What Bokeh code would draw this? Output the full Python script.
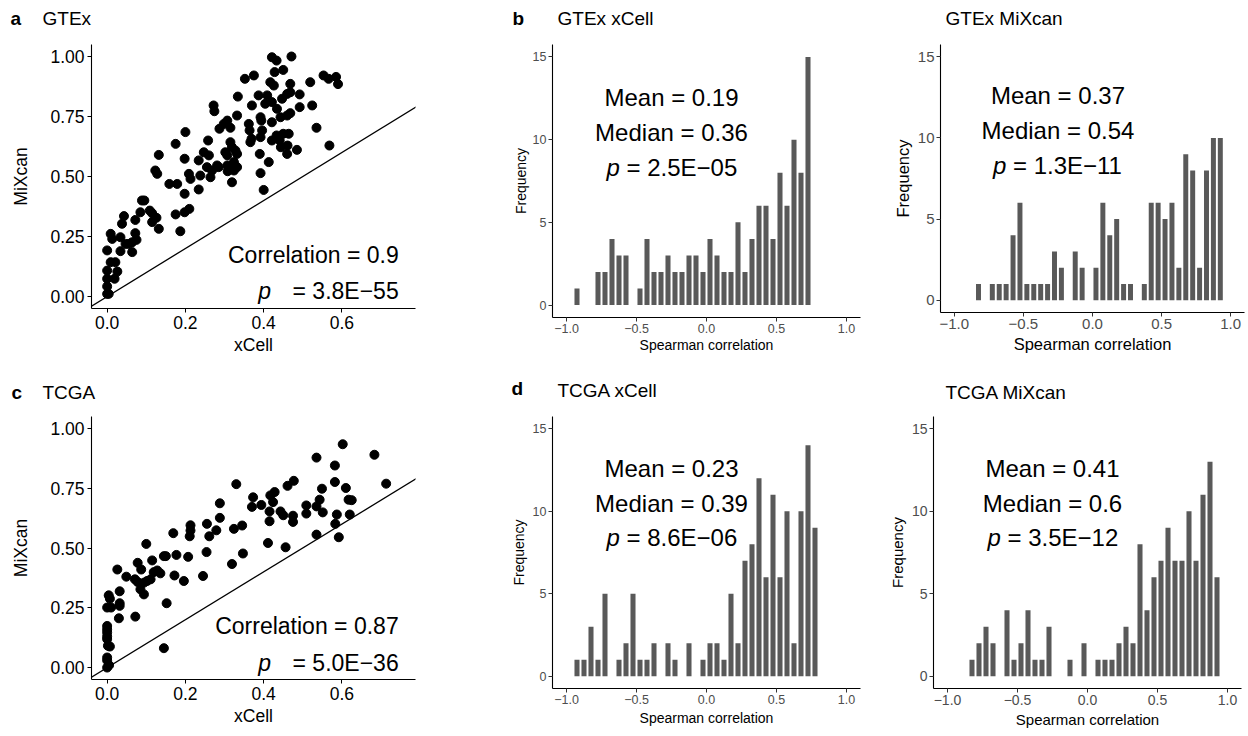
from bokeh.plotting import figure
from bokeh.layouts import row, column
from bokeh.models import (Label, Slope, FixedTicker, Range1d, PrintfTickFormatter,
                          CustomJSTickFormatter, ColumnDataSource)
from bokeh.embed import file_html
from bokeh.resources import INLINE

FONT = "Liberation Sans"

# ---------------- data ----------------
gtex_xcell_x = [0.421, 0.433, 0.471, 0.450, 0.428, 0.375, 0.352, 0.519, 0.417, 0.426, 0.468, 0.553, 0.566,
                0.334, 0.387, 0.370, 0.409, 0.421, 0.404, 0.447, 0.460, 0.468, 0.492, 0.272, 0.274, 0.434,
                0.492, 0.524, 0.392, 0.394, 0.421, 0.443, 0.460, 0.468, 0.307, 0.298, 0.332, 0.362, 0.364,
                0.396, 0.287, 0.315, 0.200, 0.535, 0.450, 0.464, 0.433, 0.441, 0.461, 0.485, 0.444, 0.421,
                0.392, 0.369, 0.366, 0.258, 0.175, 0.132, 0.198, 0.234, 0.247, 0.260, 0.315, 0.319, 0.328,
                0.332, 0.302, 0.307, 0.390, 0.413, 0.568, 0.460, 0.255, 0.238, 0.268, 0.281, 0.285, 0.307,
                0.313, 0.319, 0.324, 0.332, 0.324, 0.308, 0.319, 0.392, 0.400, 0.123, 0.128, 0.209, 0.213,
                0.159, 0.179, 0.198, 0.234, 0.264, 0.089, 0.095, 0.109, 0.115, 0.085, 0.072, 0.115, 0.126,
                0.132, 0.175, 0.198, 0.210, 0.187, 0.043, 0.038, 0.034, 0.047, 0.009, 0.013, 0.072, 0.064,
                0.075, 0.055, 0.034, 0.064, 0.000, 0.009, 0.021, 0.000, 0.026, 0.000, 0.019, 0.000, 0.004,
                0.000, 0.585, 0.590]
gtex_mixcan_y = [0.997, 0.983, 1.000, 0.944, 0.935, 0.921, 0.907, 0.893, 0.893, 0.879, 0.886, 0.921, 0.907,
                 0.833, 0.838, 0.796, 0.838, 0.810, 0.803, 0.824, 0.844, 0.851, 0.842, 0.796, 0.772, 0.782,
                 0.789, 0.796, 0.747, 0.733, 0.726, 0.747, 0.754, 0.764, 0.733, 0.719, 0.754, 0.719, 0.692,
                 0.692, 0.699, 0.703, 0.685, 0.703, 0.678, 0.678, 0.671, 0.650, 0.629, 0.611, 0.622, 0.650,
                 0.664, 0.657, 0.643, 0.650, 0.636, 0.590, 0.574, 0.567, 0.601, 0.588, 0.643, 0.622, 0.608,
                 0.594, 0.601, 0.588, 0.594, 0.560, 0.629, 0.594, 0.539, 0.504, 0.525, 0.546, 0.539, 0.546,
                 0.532, 0.546, 0.560, 0.539, 0.525, 0.522, 0.476, 0.514, 0.444, 0.525, 0.511, 0.511, 0.490,
                 0.469, 0.469, 0.428, 0.446, 0.497, 0.400, 0.400, 0.358, 0.347, 0.351, 0.319, 0.310, 0.328,
                 0.282, 0.342, 0.351, 0.365, 0.272, 0.335, 0.303, 0.247, 0.219, 0.261, 0.240, 0.264, 0.226,
                 0.236, 0.219, 0.189, 0.185, 0.192, 0.143, 0.143, 0.108, 0.104, 0.074, 0.074, 0.042, 0.011,
                 0.011, 0.915, 0.885]

tcga_xcell_x = [0.602, 0.535, 0.582, 0.330, 0.582, 0.610, 0.549, 0.617, 0.477, 0.461, 0.428, 0.417, 0.424,
                0.373, 0.370, 0.394, 0.415, 0.415, 0.443, 0.450, 0.475, 0.475, 0.509, 0.509, 0.535, 0.543,
                0.551, 0.587, 0.583, 0.592, 0.535, 0.456, 0.411, 0.347, 0.319, 0.324, 0.345, 0.288, 0.288,
                0.255, 0.261, 0.279, 0.213, 0.213, 0.211, 0.169, 0.177, 0.207, 0.150, 0.145, 0.254, 0.245,
                0.196, 0.172, 0.100, 0.115, 0.078, 0.087, 0.071, 0.078, 0.094, 0.102, 0.111, 0.119, 0.136,
                0.128, 0.085, 0.094, 0.049, 0.072, 0.152, 0.026, 0.032, 0.032, 0.032, 0.030, 0.004, 0.007,
                0.010, 0.000, 0.000, 0.000, 0.000, 0.002, 0.007, 0.145, 0.000, 0.683, 0.713, 0.625, 0.620,
                0.000, 0.005, 0.000, 0.000, 0.000]
tcga_mixcan_y = [0.934, 0.878, 0.845, 0.767, 0.776, 0.751, 0.748, 0.702, 0.781, 0.760, 0.734, 0.720, 0.692,
                 0.712, 0.672, 0.680, 0.653, 0.612, 0.653, 0.637, 0.635, 0.609, 0.678, 0.644, 0.674, 0.702,
                 0.649, 0.640, 0.601, 0.545, 0.556, 0.503, 0.521, 0.477, 0.433, 0.580, 0.594, 0.687, 0.626,
                 0.601, 0.549, 0.574, 0.595, 0.573, 0.549, 0.562, 0.471, 0.463, 0.466, 0.466, 0.483, 0.383,
                 0.362, 0.385, 0.517, 0.448, 0.438, 0.410, 0.369, 0.358, 0.355, 0.362, 0.369, 0.399, 0.394,
                 0.406, 0.327, 0.306, 0.380, 0.213, 0.269, 0.410, 0.319, 0.269, 0.258, 0.206, 0.302, 0.288,
                 0.251, 0.251, 0.174, 0.147, 0.119, 0.091, 0.088, 0.081, 0.042, 0.890, 0.769, 0.700, 0.640,
                 0.000, 0.010, 0.030, 0.160, 0.130]

# histogram bins: width 0.05 (bin centres and counts)
bin_width = 0.05
gtex_xcell_bins = [-0.925, -0.875, -0.825, -0.775, -0.725, -0.675, -0.625, -0.575, -0.525, -0.475,
                   -0.425, -0.375, -0.325, -0.275, -0.225, -0.175, -0.125, -0.075, -0.025, 0.025,
                   0.075, 0.125, 0.175, 0.225, 0.275, 0.325, 0.375, 0.425, 0.475, 0.525, 0.575,
                   0.625, 0.675, 0.725]
gtex_xcell_counts = [1, 0, 0, 2, 2, 4, 3, 3, 0, 1, 4, 2, 2, 3, 2, 2, 3, 3, 2, 4, 3, 2, 2, 5,
                     2, 4, 6, 6, 4, 8, 6, 10, 8, 15]

gtex_mixcan_bins = [-0.825, -0.775, -0.725, -0.675, -0.625, -0.575, -0.525, -0.475, -0.425, -0.375,
                    -0.325, -0.275, -0.225, -0.175, -0.125, -0.075, -0.025, 0.025, 0.075, 0.125,
                    0.175, 0.225, 0.275, 0.325, 0.375, 0.425, 0.475, 0.525, 0.575, 0.625, 0.675,
                    0.725, 0.775, 0.825, 0.875, 0.925]
gtex_mixcan_counts = [1, 0, 1, 1, 1, 4, 6, 1, 1, 1, 1, 3, 2, 0, 3, 2, 0, 2, 6, 4, 5,
                      1, 1, 0, 1, 6, 6, 5, 6, 2, 9, 8, 2, 8, 10, 10]

tcga_xcell_bins = [-0.925, -0.875, -0.825, -0.775, -0.725, -0.675, -0.625, -0.575, -0.525, -0.475,
                   -0.425, -0.375, -0.325, -0.275, -0.225, -0.175, -0.125, -0.075, -0.025, 0.025,
                   0.075, 0.125, 0.175, 0.225, 0.275, 0.325, 0.375, 0.425, 0.475, 0.525, 0.575,
                   0.625, 0.675, 0.725, 0.775]
tcga_xcell_counts = [1, 1, 3, 1, 5, 0, 1, 2, 5, 1, 1, 2, 0, 2, 1, 0, 2, 0, 1, 2, 2, 1, 5, 2,
                     7, 8, 12, 6, 11, 6, 10, 2, 10, 14, 9]

tcga_mixcan_bins = [-0.825, -0.775, -0.725, -0.675, -0.625, -0.575, -0.525, -0.475, -0.425, -0.375,
                    -0.325, -0.275, -0.225, -0.175, -0.125, -0.075, -0.025, 0.025, 0.075, 0.125,
                    0.175, 0.225, 0.275, 0.325, 0.375, 0.425, 0.475, 0.525, 0.575, 0.625, 0.675,
                    0.725, 0.775, 0.825, 0.875, 0.925]
tcga_mixcan_counts = [1, 2, 3, 2, 0, 4, 1, 2, 4, 1, 1, 3, 0, 0, 1, 0, 2, 0, 1, 1, 1,
                      2, 3, 2, 8, 4, 6, 7, 9, 7, 7, 10, 7, 11, 13, 6]

stats = {
    "gtex_scatter": ("Correlation = 0.9", "3.8E\u221255"),
    "tcga_scatter": ("Correlation = 0.87", "5.0E\u221236"),
    "gtex_xcell": ("Mean = 0.19", "Median = 0.36", "2.5E\u221205"),
    "gtex_mixcan": ("Mean = 0.37", "Median = 0.54", "1.3E\u221211"),
    "tcga_xcell": ("Mean = 0.23", "Median = 0.39", "8.6E\u221206"),
    "tcga_mixcan": ("Mean = 0.41", "Median = 0.6", "3.5E\u221212"),
}

panel_titles_top = [("a", "GTEx"), ("b", "GTEx xCell"), (None, "GTEx MiXcan")]
panel_titles_bottom = [("c", "TCGA"), ("d", "TCGA xCell"), (None, "TCGA MiXcan")]

TOTAL_W = 1246


# ---------------- helpers ----------------
def style_axes(p, tick_size, title_size, tick_color, tick_line_color, lab_standoff, title_standoff):
    for ax in (p.xaxis[0], p.yaxis[0]):
        ax.axis_line_color = "black"
        ax.axis_line_width = 1.1
        ax.major_tick_line_color = tick_line_color
        ax.major_tick_line_width = 1.0
        ax.major_tick_in = 0
        ax.major_tick_out = 4
        ax.minor_tick_line_color = None
        ax.major_label_text_font = FONT
        ax.major_label_text_font_size = tick_size
        ax.major_label_text_color = tick_color
        ax.axis_label_text_font = FONT
        ax.axis_label_text_font_size = title_size
        ax.axis_label_text_font_style = "normal"
        ax.axis_label_text_color = "black"
        ax.major_label_standoff = lab_standoff
        ax.axis_label_standoff = title_standoff
    p.grid.visible = False
    p.outline_line_color = None
    p.background_fill_color = "white"
    p.border_fill_color = "white"


def add_label(p, x, y, text, size, align="left", style="normal", x_offset=0, baseline="middle"):
    p.add_layout(Label(x=x, y=y, text=text, text_font=FONT, text_font_size=size,
                       text_font_style=style, text_align=align, text_baseline=baseline,
                       x_offset=x_offset, text_color="black"))


def header(y_top, height, items):
    p = figure(frame_width=TOTAL_W, frame_height=height, x_range=Range1d(0, TOTAL_W),
               y_range=Range1d(y_top + height, y_top), output_backend="svg",
               toolbar_location=None, x_axis_type=None, y_axis_type=None,
               min_border_left=0, min_border_right=0, min_border_top=0, min_border_bottom=0)
    p.outline_line_color = None
    p.grid.visible = False
    for (x, y, text, bold) in items:
        add_label(p, x, y, text, "19px", style="bold" if bold else "normal")
    return p


def scatter_panel(xs, ys, st, fh, bl, br, bt, bb, c_y, p_y):
    p = figure(frame_width=324, frame_height=fh, x_range=Range1d(-0.04, 0.788),
               y_range=Range1d(-0.05, 1.05), output_backend="svg", toolbar_location=None,
               min_border_left=bl, min_border_right=br, min_border_top=bt, min_border_bottom=bb,
               x_axis_label="xCell", y_axis_label="MiXcan")
    p.scatter(xs, ys, size=9, color="black")
    p.add_layout(Slope(gradient=1, y_intercept=0, line_color="black", line_width=1.3))
    style_axes(p, "17.5px", "17.5px", "black", "black", 3, 3)
    p.yaxis.axis_label_standoff = 16
    p.xaxis.ticker = FixedTicker(ticks=[0, 0.2, 0.4, 0.6])
    p.xaxis.formatter = PrintfTickFormatter(format="%.1f")
    p.yaxis.ticker = FixedTicker(ticks=[0, 0.25, 0.5, 0.75, 1.0])
    p.yaxis.formatter = PrintfTickFormatter(format="%.2f")
    add_label(p, 0.745, c_y, st[0], "23px", align="right")
    add_label(p, 0.745, p_y, "= " + st[1], "23px", align="right")
    add_label(p, 0.386, p_y, "p", "23px", style="italic")
    return p


def hist_panel(bins, counts, st, fw, fh, bl, br, bt, bb, tick_size, title_size, ty, tstand):
    p = figure(frame_width=fw, frame_height=fh, x_range=Range1d(-1.1, 1.1),
               y_range=Range1d(-0.75, 15.75), output_backend="svg", toolbar_location=None,
               min_border_left=bl, min_border_right=br, min_border_top=bt, min_border_bottom=bb,
               x_axis_label="Spearman correlation", y_axis_label="Frequency")
    src = ColumnDataSource(dict(x=bins, top=counts))
    p.vbar(x="x", top="top", bottom=0, width=bin_width * 0.72, source=src,
           fill_color="#595959", line_color=None)
    style_axes(p, tick_size, title_size, "#4D4D4D", "#333333", 2, tstand)
    p.xaxis.ticker = FixedTicker(ticks=[-1.0, -0.5, 0.0, 0.5, 1.0])
    p.xaxis.formatter = CustomJSTickFormatter(
        code="return (tick < 0 ? '\u2212' : '') + Math.abs(tick).toFixed(1);")
    p.yaxis.ticker = FixedTicker(ticks=[0, 5, 10, 15])
    add_label(p, -0.25, ty[0], st[0], "24px", align="center")
    add_label(p, -0.25, ty[1], st[1], "24px", align="center")
    add_label(p, -0.25, ty[2], "p", "24px", style="italic", x_offset=-65)
    add_label(p, -0.25, ty[2], "= " + st[2], "24px", x_offset=-45)
    return p


h1 = header(0, 30, [(10, 18, panel_titles_top[0][0], True), (42, 18, panel_titles_top[0][1], False),
                    (512, 18, panel_titles_top[1][0], True), (557, 18, panel_titles_top[1][1], False),
                    (945, 18, panel_titles_top[2][1], False)])
pa = scatter_panel(gtex_xcell_x, gtex_mixcan_y, stats["gtex_scatter"],
                   264, 91, 85, 14, 68, 0.175, 0.025)
pb1 = hist_panel(gtex_xcell_bins, gtex_xcell_counts, stats["gtex_xcell"],
                 308, 273, 52, 30, 11, 62, "12.5px", "14px", (12.55, 10.45, 8.3), 1)
pb2 = hist_panel(gtex_mixcan_bins, gtex_mixcan_counts, stats["gtex_mixcan"],
                 304, 268, 48, 4, 11, 67, "15px", "16.5px", (12.6, 10.45, 8.3), 3)

h2 = header(376, 26, [(11, 392, panel_titles_bottom[0][0], True), (42, 392, panel_titles_bottom[0][1], False),
                      (511, 388, panel_titles_bottom[1][0], True), (557, 390, panel_titles_bottom[1][1], False),
                      (945, 392, panel_titles_bottom[2][1], False)])
pc = scatter_panel(tcga_xcell_x, tcga_mixcan_y, stats["tcga_scatter"],
                   263, 91, 85, 13, 56, 0.172, 0.017)
pd1 = hist_panel(tcga_xcell_bins, tcga_xcell_counts, stats["tcga_xcell"],
                 308, 272, 52, 25, 14, 46, "12.5px", "14px", (12.6, 10.47, 8.4), 3)
pd2 = hist_panel(tcga_mixcan_bins, tcga_mixcan_counts, stats["tcga_mixcan"],
                 308, 272, 48, 5, 14, 46, "14px", "15px", (12.6, 10.47, 8.4), 3)

layout = column(h1, row(pa, pb1, pb2, spacing=0), h2, row(pc, pd1, pd2, spacing=0), spacing=0)

with open("out.html", "w") as f:
    f.write(file_html(layout, INLINE))
